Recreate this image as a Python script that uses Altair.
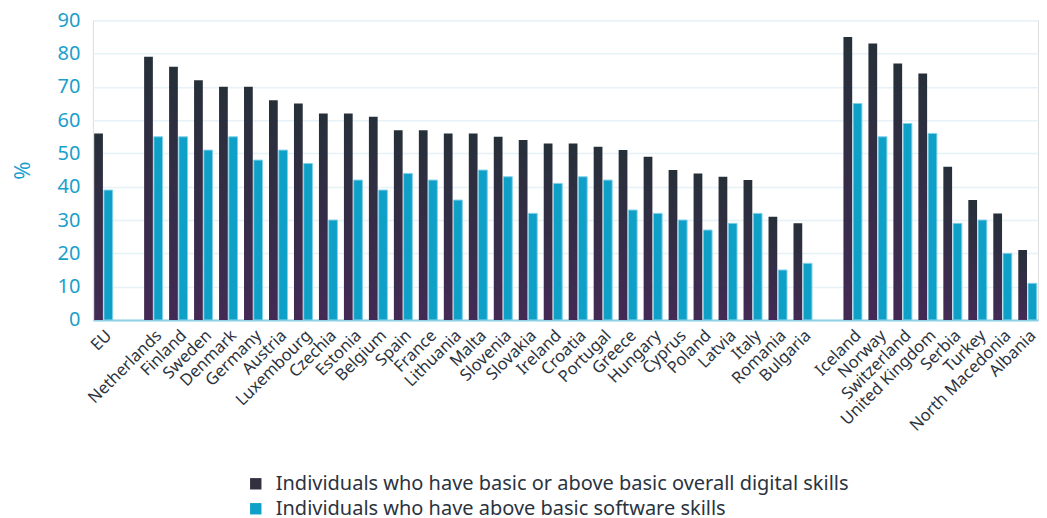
import altair as alt
import pandas as pd

countries = ["EU", "gap1", "Netherlands", "Finland", "Sweden", "Denmark", "Germany", "Austria",
             "Luxembourg", "Czechia", "Estonia", "Belgium", "Spain", "France", "Lithuania",
             "Malta", "Slovenia", "Slovakia", "Ireland", "Croatia", "Portugal", "Greece",
             "Hungary", "Cyprus", "Poland", "Latvia", "Italy", "Romania", "Bulgaria", "gap2",
             "Iceland", "Norway", "Switzerland", "United Kingdom", "Serbia", "Turkey",
             "North Macedonia", "Albania"]

digital = [56, None, 79, 76, 72, 70, 70, 66, 65, 62, 62, 61, 57, 57, 56, 56, 55, 54, 53, 53, 52,
           51, 49, 45, 44, 43, 42, 31, 29, None, 85, 83, 77, 74, 46, 36, 32, 21]
software = [39, None, 55, 55, 51, 55, 48, 51, 47, 30, 42, 39, 44, 42, 36, 45, 43, 32, 41, 43, 42,
            33, 32, 30, 27, 29, 32, 15, 17, None, 65, 55, 59, 56, 29, 30, 20, 11]

s1 = "Individuals who have basic or above basic overall digital skills"
s2 = "Individuals who have above basic software skills"

rows = []
for c, a, b in zip(countries, digital, software):
    if a is not None:
        rows.append({"country": c, "series": s1, "value": a})
        rows.append({"country": c, "series": s2, "value": b})
df = pd.DataFrame(rows)

FONT = "Noto Sans"
CYAN = "#0fa0c8"
DARK = "#33303f"

x_enc = alt.X("country:N", sort=countries,
              scale=alt.Scale(domain=countries, paddingInner=0.26, paddingOuter=0.05),
              axis=alt.Axis(title=None, labelAngle=-45, labelFontSize=16.5, labelColor="#2b3340",
                            labelFont=FONT, ticks=False, domainColor="#8fd0e6", domainWidth=2,
                            labelPadding=7, grid=False,
                            labelExpr="(datum.value == 'gap1' || datum.value == 'gap2') ? '' : datum.value"))
y_enc = alt.Y("value:Q", scale=alt.Scale(domain=[0, 90]),
              axis=alt.Axis(title="%", values=list(range(0, 91, 10)), labelFontSize=20,
                            labelColor="#1a9fcc", labelFont=FONT, titleFont=FONT,
                            titleFontSize=22, titleFontWeight="normal", titleColor="#1a9fcc",
                            ticks=False, domain=False, gridColor="#e6f2f8", gridWidth=1.5,
                            labelPadding=13, titlePadding=23))
xo = alt.XOffset("series:N", scale=alt.Scale(domain=[s1, s2], paddingInner=0.1))

base = alt.Chart(df)

dark = base.transform_filter(alt.datum.series == s1).mark_bar(
    fill=alt.Gradient(gradient="linear", x1=0, x2=0, y1=0, y2=1,
                      stops=[alt.GradientStop(color="#263039", offset=0),
                             alt.GradientStop(color="#432a55", offset=1)])
).encode(x=x_enc, y=y_enc, xOffset=xo)

light = base.transform_filter(alt.datum.series == s2).mark_bar(
    stroke="#7fd0e8", strokeWidth=1
).encode(
    x=x_enc, y=y_enc, xOffset=xo,
    color=alt.Color("series:N",
                    scale=alt.Scale(domain=[s1, s2], range=[DARK, CYAN]),
                    legend=alt.Legend(title=None, orient="none", legendX=153, legendY=454,
                                      symbolType="square", symbolSize=130,
                                      symbolStrokeWidth=0, labelFontSize=20,
                                      labelColor="#2b3340", labelFont=FONT, labelOffset=10,
                                      rowPadding=5, labelLimit=900, symbolOpacity=1))
)

chart = alt.layer(dark, light).properties(width=946, height=300).configure_view(
    stroke=None
).configure(padding={"left": 3, "top": 2, "right": 0, "bottom": 2})

chart.save("out.html", embed_options={"renderer": "svg", "actions": False})
